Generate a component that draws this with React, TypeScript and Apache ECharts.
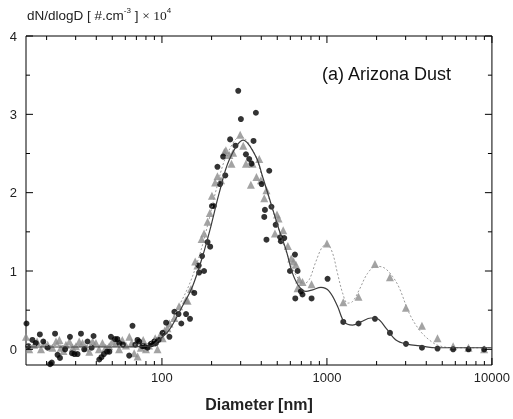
import React, { useEffect, useRef } from "react";
import * as echarts from "echarts";

// ---- axis ranges ----
const X_MIN = 15;
const X_MAX = 10000;
const Y_MIN = -0.2;
const Y_MAX = 4;

// ---- tick values ----
const xMajorTicks = [100, 1000, 10000];
const xMinorTicks = [20, 30, 40, 50, 60, 70, 80, 90, 200, 300, 400, 500, 600, 700, 800, 900, 2000, 3000, 4000, 5000, 6000, 7000, 8000, 9000];
const yMajorTicks = [0, 1, 2, 3, 4];
const yMinorTicks = [0.5, 1.5, 2.5, 3.5];

// ---- black dots: [diameter nm, dN/dlogD x1e4] ----
const dotsBlack: number[][] = [
  [15.1, 0.33], [15.5, 0.04], [16.4, 0.12], [17.2, 0.08], [18.2, 0.19], [19.1, 0.1], [20.3, 0.02],
  [21.0, -0.19], [21.5, -0.17], [22.5, 0.2], [23.3, -0.07], [24.1, -0.11], [25.9, 0.0], [27.7, 0.16],
  [28.5, -0.05], [29.5, -0.06], [30.8, -0.06], [32.3, 0.2], [33.8, 0.0], [35.4, 0.1], [37.5, 0.02],
  [38.5, 0.17], [41.7, -0.13], [43.0, -0.1], [44.5, -0.06], [46.5, -0.03], [48.0, -0.03], [49.1, 0.16],
  [52, 0.13], [53.7, 0.13], [55.1, 0.08], [58, 0.06], [63.3, -0.08], [66.3, 0.3], [69, 0.06],
  [71.1, 0.12], [72.8, 0.1], [76, 0.04], [78.1, 0.04], [81.8, 0.02], [85.8, 0.07], [87, 0.07],
  [89.8, 0.1], [92, 0.08], [95.4, 0.12], [101, 0.21], [106, 0.34], [111, 0.16], [119, 0.48],
  [126, 0.45], [131, 0.33], [140, 0.45], [148, 0.39], [157, 0.72], [167, 1.07], [168, 0.98],
  [175, 1.19], [180, 1.0], [189, 1.37], [196, 1.31], [201, 1.83], [206, 1.83], [217, 2.33],
  [225, 2.11], [235, 2.46], [242, 2.22], [259, 2.68], [279, 2.6], [290, 3.3], [301, 2.94],
  [323, 2.49], [338, 2.43], [349, 2.37], [359, 2.66], [371, 3.02], [402, 2.11], [417, 1.69],
  [421, 1.78], [430, 1.4], [447, 2.28], [461, 1.82], [489, 1.59], [521, 1.43], [526, 1.38],
  [551, 1.42], [597, 1.0], [640, 1.21], [643, 0.65], [664, 1.0], [695, 0.74], [711, 0.7],
  [807, 0.65], [1009, 0.9], [1256, 0.35], [1554, 0.33], [1954, 0.39], [2410, 0.21], [3013, 0.07],
  [3767, 0.02], [4680, 0.01], [5820, 0.0], [7210, 0.0], [8970, 0.0],
];

// ---- grey triangles ----
const trianglesGray: number[][] = [
  [15.0, 0.16], [15.7, 0.0], [16.8, 0.06], [17.5, 0.1], [18.5, 0.0], [19.3, 0.08], [20.3, 0.06],
  [21.7, 0.02], [22.8, 0.1], [23.9, 0.12], [24.4, 0.02], [25.3, -0.02], [26.2, 0.06], [27.5, 0.1],
  [28.8, 0.02], [30.1, 0.04], [31.5, 0.1], [33.0, 0.08], [34.5, 0.02], [36.3, -0.03], [38, 0.1],
  [39.8, 0.08], [41.5, 0.0], [43.6, 0.08], [45.5, 0.02], [47.9, 0.04], [50, 0.1], [52.6, 0.08],
  [55, 0.0], [57.5, 0.12], [60.5, 0.05], [63.4, 0.16], [65.5, 0.08], [67.9, -0.05], [71.2, -0.09],
  [74.5, 0.02], [77, 0.12], [80, 0.0], [83.5, 0.05], [87.7, 0.08], [91, 0.14], [94, 0.0],
  [97.5, 0.18], [101, 0.14], [104, 0.24], [108, 0.27], [111, 0.33], [119, 0.4], [127, 0.55],
  [140, 0.63], [143, 0.62], [150, 0.77], [159, 1.12], [164, 1.07], [174, 1.41], [180, 1.48],
  [189, 1.63], [195, 1.74], [201, 1.96], [210, 2.13], [217, 2.21], [228, 2.16], [239, 2.52],
  [244, 2.54], [256, 2.48], [264, 2.37], [270, 2.51], [298, 2.74], [311, 2.6], [323, 2.37],
  [346, 2.1], [354, 2.37], [374, 2.2], [389, 2.43], [398, 2.16], [417, 1.93], [430, 2.03],
  [484, 1.48], [498, 1.72], [509, 1.67], [543, 1.52], [580, 1.32], [608, 1.16], [628, 1.12],
  [649, 1.08], [664, 0.78], [679, 0.89], [711, 0.86], [807, 0.83], [1000, 1.35], [1256, 0.6],
  [1554, 0.67], [1954, 1.09], [2410, 0.92], [3013, 0.53], [3767, 0.3], [4680, 0.14], [5820, 0.04],
  [7210, 0.02], [8970, 0.0],
];

// ---- fitted curves ----
const fitSolid: number[][] = [
  [15, 0.03], [30, 0.03], [60, 0.03], [85, 0.04], [96, 0.12], [111, 0.25], [133, 0.55],
  [153, 0.8], [176, 1.18], [198, 1.57], [222, 1.99], [256, 2.42], [311, 2.67], [371, 2.46],
  [408, 2.2], [458, 1.86], [514, 1.52], [565, 1.27], [619, 0.97], [679, 0.8], [746, 0.74],
  [819, 0.76], [920, 0.79], [1033, 0.74], [1159, 0.55], [1273, 0.35], [1430, 0.31], [1606, 0.35],
  [1848, 0.4], [2027, 0.39], [2279, 0.27], [2618, 0.12], [3013, 0.07], [3794, 0.04], [4594, 0.02],
  [10000, 0.02],
];

const fitDotted: number[][] = [
  [15, 0.05], [50, 0.05], [80, 0.07], [93, 0.14], [107, 0.27], [128, 0.57], [148, 0.85],
  [170, 1.22], [191, 1.62], [214, 2.05], [247, 2.48], [300, 2.72], [360, 2.52], [400, 2.24],
  [450, 1.9], [505, 1.56], [550, 1.32], [592, 1.14], [640, 0.97], [679, 0.89], [728, 0.84],
  [781, 0.89], [857, 1.12], [940, 1.31], [1009, 1.33], [1081, 1.23], [1159, 0.97], [1244, 0.72],
  [1334, 0.59], [1430, 0.61], [1570, 0.76], [1763, 0.97], [1982, 1.06], [2224, 1.04], [2500, 0.93],
  [2750, 0.78], [3155, 0.46], [3625, 0.25], [4169, 0.12], [4795, 0.045], [6000, 0.02], [10000, 0.02],
];

const FONT = "'Liberation Sans', Arial, sans-serif";

export default function App() {
  const ref = useRef<HTMLDivElement>(null);

  useEffect(() => {
    if (!ref.current) return;
    const chart = echarts.init(ref.current, null, { renderer: "svg" });

    const isPow10 = (v: number) => {
      const l = Math.log10(v);
      return Math.abs(l - Math.round(l)) < 1e-6;
    };

    const tickRender = (_params: any, api: any) => {
      const children: any[] = [];
      const pBL = api.coord([X_MIN, Y_MIN]);
      const pTR = api.coord([X_MAX, Y_MAX]);
      const yB = pBL[1];
      const yT = pTR[1];
      const xL = pBL[0];
      const xR = pTR[0];
      const st = { stroke: "#000", lineWidth: 1 };
      const addX = (v: number, len: number) => {
        const x = api.coord([v, 1])[0];
        children.push({ type: "line", shape: { x1: x, y1: yB, x2: x, y2: yB - len }, style: st });
        children.push({ type: "line", shape: { x1: x, y1: yT, x2: x, y2: yT + len }, style: st });
      };
      const addY = (v: number, len: number) => {
        const y = api.coord([100, v])[1];
        children.push({ type: "line", shape: { x1: xL, y1: y, x2: xL + len, y2: y }, style: st });
        children.push({ type: "line", shape: { x1: xR, y1: y, x2: xR - len, y2: y }, style: st });
      };
      xMajorTicks.forEach((v) => addX(v, 7));
      xMinorTicks.forEach((v) => addX(v, 4));
      yMajorTicks.forEach((v) => addY(v, 7));
      yMinorTicks.forEach((v) => addY(v, 4));
      return { type: "group", children };
    };

    chart.setOption({
      animation: false,
      grid: {
        left: 26,
        right: 21,
        top: 36,
        bottom: 54,
        show: true,
        borderColor: "#000",
        borderWidth: 1,
        backgroundColor: "transparent",
      },
      xAxis: {
        type: "log",
        logBase: 10,
        min: X_MIN,
        max: X_MAX,
        axisLine: { show: false },
        axisTick: { show: false },
        splitLine: { show: false },
        axisLabel: {
          fontSize: 13,
          color: "#222",
          fontFamily: FONT,
          margin: 6,
          formatter: (v: number) => (isPow10(v) ? String(Math.round(v)) : ""),
        },
        name: "Diameter [nm]",
        nameLocation: "middle",
        nameGap: 31,
        nameTextStyle: { fontSize: 16, fontWeight: "bold", color: "#222", fontFamily: FONT },
      },
      yAxis: {
        type: "value",
        min: Y_MIN,
        max: Y_MAX,
        interval: 0.2,
        axisLine: { show: false },
        axisTick: { show: false },
        splitLine: { show: false },
        axisLabel: {
          fontSize: 13,
          color: "#222",
          fontFamily: FONT,
          margin: 9,
          formatter: (v: number) =>
            Math.abs(v - Math.round(v)) < 1e-6 ? String(Math.round(v)) : "",
        },
      },
      graphic: [
        {
          type: "text",
          left: 27,
          top: 6,
          style: {
            text: "{a|dN/dlogD [ #.cm}{s|-3}{a| ] }{b|× 10}{s|4}",
            rich: {
              a: { fontSize: 13.5, fontFamily: FONT, fill: "#222", lineHeight: 18 },
              b: { fontSize: 13.5, fontFamily: "'Liberation Serif', serif", fill: "#222", lineHeight: 18 },
              s: { fontSize: 8, fontFamily: FONT, fill: "#222", verticalAlign: "top", lineHeight: 18 },
            },
          },
        },
        {
          type: "text",
          left: 322,
          top: 65,
          style: {
            text: "(a) Arizona Dust",
            fontSize: 18,
            fontFamily: FONT,
            fill: "#111",
          },
        },
      ],
      series: [
        {
          type: "scatter",
          data: trianglesGray,
          symbol: "triangle",
          symbolSize: 8,
          itemStyle: { color: "#8c8c8c" },
          z: 2,
        },
        {
          type: "scatter",
          data: dotsBlack,
          symbol: "circle",
          symbolSize: 6,
          itemStyle: { color: "#000" },
          z: 3,
        },
        {
          type: "line",
          data: fitDotted,
          smooth: 0.35,
          showSymbol: false,
          lineStyle: { color: "#9a9a9a", width: 1, type: [2, 2] },
          z: 4,
        },
        {
          type: "line",
          data: fitSolid,
          smooth: 0.35,
          showSymbol: false,
          lineStyle: { color: "#3c3c3c", width: 1.2 },
          z: 5,
        },
        {
          type: "custom",
          data: [[100, 1]],
          renderItem: tickRender,
          silent: true,
          z: 6,
        },
      ],
    });

    return () => chart.dispose();
  }, []);

  return (
    <div
      ref={ref}
      style={{ position: "fixed", left: 0, top: 0, width: 513, height: 419 }}
    />
  );
}
